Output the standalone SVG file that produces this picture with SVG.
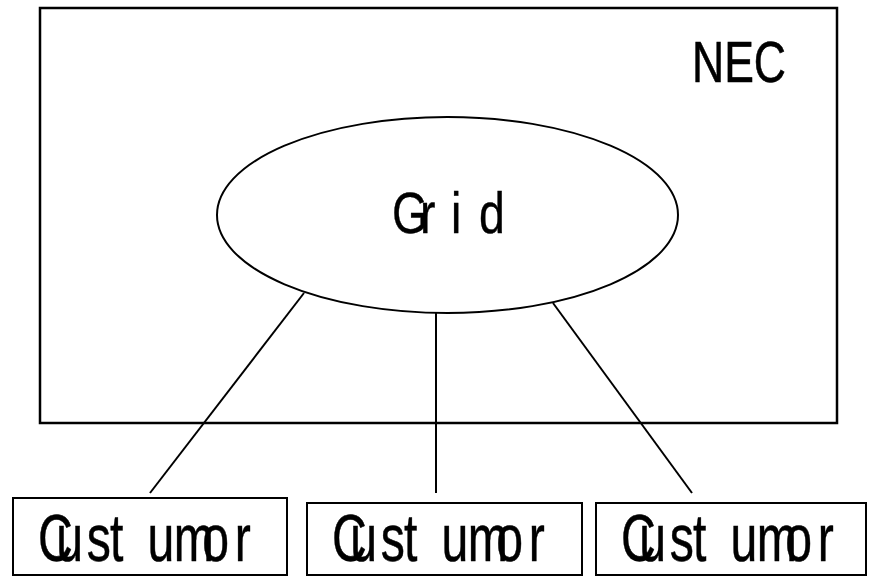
<svg xmlns="http://www.w3.org/2000/svg" width="871" height="577" viewBox="0 0 871 577">
  <style>
    .frame { fill: #ffffff; stroke: #000000; stroke-width: 2.5; }
    .box { fill: #ffffff; stroke: #000000; stroke-width: 2; }
    .link { fill: none; stroke: #000000; stroke-width: 2; }
    .label { font-family: "Liberation Sans", Arial, sans-serif; fill: #000000; }
    .cust { font-size: 66px; stroke: #000000; stroke-width: 0.5; }
  </style>
  <rect width="871" height="577" fill="#ffffff"/>

  <g id="nec">
    <rect class="frame" x="40" y="8" width="797" height="415"/>
    <text class="label" x="692" y="82" font-size="57" stroke="#000" stroke-width="0.6" textLength="94" lengthAdjust="spacingAndGlyphs">NEC</text>
  </g>

  <g id="connectors">
    <line class="link" x1="304" y1="293" x2="150" y2="493"/>
    <line class="link" x1="436" y1="313" x2="436" y2="493"/>
    <line class="link" x1="553" y1="303" x2="692" y2="493"/>
  </g>

  <g id="grid">
    <ellipse class="box" cx="447.5" cy="215" rx="230.5" ry="98"/>
    <text class="label" font-size="58" stroke="#000" stroke-width="0.4" transform="translate(392,233) scale(0.8,1)" x="0 35 73.75 108.75" y="0">Grid</text>
  </g>

  <g id="customer-1">
    <rect class="box" x="13" y="498" width="274" height="77"/>
    <text class="label cust" transform="translate(38,561) scale(0.73,1)" x="0 25 66.7 98.6 98.6 150 186.1 225 269.4" y="0">Cust umor</text>
  </g>

  <g id="customer-2">
    <rect class="box" x="307" y="503" width="275" height="72"/>
    <text class="label cust" transform="translate(332,561) scale(0.73,1)" x="0 25 66.7 98.6 98.6 150 186.1 225 269.4" y="0">Cust umor</text>
  </g>

  <g id="customer-3">
    <rect class="box" x="596" y="503" width="270" height="72"/>
    <text class="label cust" transform="translate(621,561) scale(0.73,1)" x="0 25 66.7 98.6 98.6 150 186.1 225 269.4" y="0">Cust umor</text>
  </g>
</svg>
